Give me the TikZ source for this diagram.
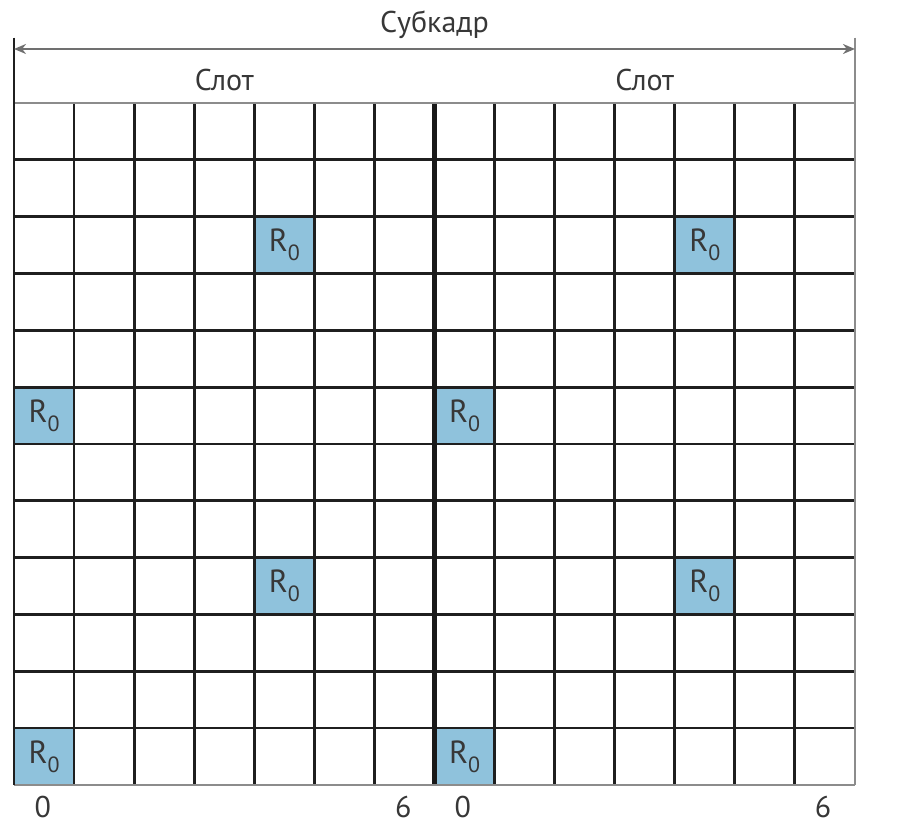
\documentclass[tikz,border=0pt]{standalone}
\usepackage{fontspec}
\setmainfont{PT Sans}
\usetikzlibrary{arrows.meta,positioning}
\definecolor{cellblue}{RGB}{143,194,220}
\definecolor{txtgrey}{RGB}{55,55,55}
\definecolor{edgegrey}{RGB}{140,140,140}
\newcommand{\rzero}{R\raisebox{-0.55ex}{\fontsize{11}{11}\selectfont 0}}

\begin{document}
\begin{tikzpicture}[
    x=30.035pt, y=-28.415pt,
    gridline/.style={line width=1.4pt, black!88},
    slotline/.style={line width=2.4pt, black!90},
    edge/.style={line width=1.4pt, edgegrey},
    rcell/.style={fill=cellblue, draw=black!60, minimum width=30.035pt, minimum height=28.415pt, inner sep=0pt, text=txtgrey, font=\fontsize{16}{16}\selectfont},
    lbl/.style={text=txtgrey, font=\fontsize{15}{15}\selectfont, inner sep=0pt},
    >={Stealth[length=6pt,width=5pt]}
  ]
    \useasboundingbox (-0.233,-1.812) rectangle (14.833,12.705);

    % reference signal cells
    \node[rcell] (a1) at (4.5,2.5) {\rzero};
    \node[rcell] (a2) at (0.5,5.5) {\rzero};
    \node[rcell] (a3) at (4.5,8.5) {\rzero};
    \node[rcell] (a4) at (0.5,11.5) {\rzero};
    \node[rcell] (b1) at (11.5,2.5) {\rzero};
    \node[rcell] (b2) at (7.5,5.5) {\rzero};
    \node[rcell] (b3) at (11.5,8.5) {\rzero};
    \node[rcell] (b4) at (7.5,11.5) {\rzero};

    % grid
    \foreach \j in {1,...,11}
      \draw[gridline] (0,\j) -- (14,\j);
    \foreach \i in {1,...,6,8,9,...,13}
      \draw[gridline] (\i,0) -- (\i,12);
    \draw[slotline] (7,0) -- (7,12);
    \draw[edge] (0,0) -- (14,0);
    \draw[edge] (0,12) -- (14,12);

    % frame and subframe arrow
    \coordinate (lt) at (0,-1.15);
    \coordinate (rt) at (14,-1.15);
    \draw[gridline] (lt) -- (0,12);
    \draw[edge] (rt) -- (14,12);
    \coordinate (la) at (0,-0.95);
    \coordinate (ra) at (14,-0.95);
    \draw[<->, line width=1.3pt, edgegrey!80!black] (la) -- (ra);

    \node[lbl] (sub) at (7,-1.37) {Субкадр};
    \node[lbl] (s1) at (3.5,-0.40) {Слот};
    \node[lbl] (s2) at (10.5,-0.40) {Слот};

    % symbol numbers
    \node[lbl] (n0a) at (0.48,12.38) {0};
    \node[lbl] (n6a) at (6.48,12.38) {6};
    \node[lbl] (n0b) at (7.47,12.38) {0};
    \node[lbl] (n6b) at (13.47,12.38) {6};
  \end{tikzpicture}
\end{document}
